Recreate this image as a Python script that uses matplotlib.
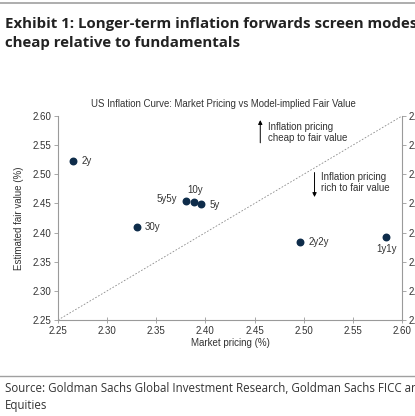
import matplotlib
matplotlib.use('Agg')
import matplotlib.pyplot as plt
from matplotlib.lines import Line2D

# market pricing vs model fair value
tenors = ['2y', '30y', '5y5y', '10y', '5y', '2y2y', '1y1y']
market = [2.265, 2.330, 2.380, 2.388, 2.396, 2.496, 2.584]
fair_value = [2.522, 2.410, 2.455, 2.453, 2.449, 2.383, 2.393]
ticks = [2.25, 2.30, 2.35, 2.40, 2.45, 2.50, 2.55, 2.60]

W, H = 415, 416
navy = '#0e2c4a'
grey_txt = '#333333'
fs = 7.0
plt.rcParams['font.family'] = ['Liberation Sans', 'DejaVu Sans']

fig = plt.figure(figsize=(W / 100, H / 100), dpi=100)


def fx(px):
    return px / W


def fy(py):
    return 1 - py / H


# header and footer
fig.add_artist(Line2D([0, 1], [fy(3), fy(3)], color='#a0a0a0', lw=1.2))
head_kw = dict(fontsize=10.8, fontweight='bold', family=['Open Sans', 'DejaVu Sans'],
               color='#222222', va='baseline', ha='left')
fig.text(fx(5), fy(28), 'Exhibit 1: Longer-term inflation forwards screen modestly', **head_kw)
fig.text(fx(5), fy(47), 'cheap relative to fundamentals', **head_kw)

fig.add_artist(Line2D([0, 1], [fy(376), fy(376)], color='#a0a0a0', lw=1.0))
foot_kw = dict(fontsize=8.3, family=['Open Sans', 'DejaVu Sans'], color='#333333',
               va='baseline', ha='left')
fig.text(fx(5), fy(392), 'Source: Goldman Sachs Global Investment Research, Goldman Sachs FICC and',
         **foot_kw)
fig.text(fx(5), fy(409), 'Equities', **foot_kw)

ax = fig.add_axes([fx(58), fy(320), fx(402) - fx(58), fy(116) - fy(320)])
ax.set_xlim(2.25, 2.60)
ax.set_ylim(2.25, 2.60)
ax.set_xticks(ticks)
ax.set_yticks(ticks)
ax.set_xticklabels([f'{t:.2f}' for t in ticks])
ax.set_yticklabels([f'{t:.2f}' for t in ticks])

for side in ['left', 'bottom', 'right']:
    ax.spines[side].set_color('#9a9a9a')
    ax.spines[side].set_linewidth(0.8)
ax.spines['top'].set_visible(False)
ax.tick_params(axis='both', labelsize=fs, colors='#9a9a9a', labelcolor=grey_txt,
               length=3, width=0.6, pad=2)
ax.tick_params(axis='x', direction='inout', length=4)
ax.tick_params(axis='y', direction='out')

ax2 = ax.twinx()
ax2.set_ylim(2.25, 2.60)
ax2.set_yticks(ticks)
ax2.set_yticklabels([f'{t:.2f}' for t in ticks])
ax2.tick_params(axis='y', labelsize=fs, colors='#9a9a9a', labelcolor=grey_txt,
                length=3, width=0.6, pad=2, direction='out')
for s in ax2.spines.values():
    s.set_visible(False)

# fair value line
ax.plot([2.25, 2.60], [2.25, 2.60], ls=(0, (2, 2)), color='#8a8a8a', lw=0.6)

ax.scatter(market, fair_value, s=22, color=navy, zorder=3)

offsets = {
    '2y': (6, 0, 'left', 'center'),
    '30y': (6, 0, 'left', 'center'),
    '5y5y': (-6, 1, 'right', 'center'),
    '10y': (1, 5, 'center', 'bottom'),
    '5y': (6, -1, 'left', 'center'),
    '2y2y': (6, 0, 'left', 'center'),
    '1y1y': (0, -5, 'center', 'top'),
}
for name, x, y in zip(tenors, market, fair_value):
    dx, dy, ha, va = offsets[name]
    ax.annotate(name, (x, y), xytext=(dx, dy), textcoords='offset points',
                ha=ha, va=va, fontsize=fs, color=grey_txt)

# cheap / rich arrows
ax.annotate('', xy=(2.4558, 2.593), xytext=(2.4558, 2.554),
            arrowprops=dict(arrowstyle='-|>', color='black', lw=0.7,
                            mutation_scale=6, shrinkA=0, shrinkB=0))
ax.text(2.464, 2.590, 'Inflation pricing\ncheap to fair value', fontsize=fs,
        color=grey_txt, va='top', ha='left', linespacing=1.1)
ax.annotate('', xy=(2.511, 2.461), xytext=(2.511, 2.503),
            arrowprops=dict(arrowstyle='-|>', color='black', lw=0.7,
                            mutation_scale=6, shrinkA=0, shrinkB=0))
ax.text(2.518, 2.504, 'Inflation pricing\nrich to fair value', fontsize=fs,
        color=grey_txt, va='top', ha='left', linespacing=1.1)

ax.set_xlabel('Market pricing (%)', fontsize=fs, color=grey_txt, labelpad=2)
ax.set_ylabel('Estimated fair value (%)', fontsize=fs, color=grey_txt, labelpad=6)

fig.text(fx(223), fy(107), 'US Inflation Curve: Market Pricing vs Model-implied Fair Value',
         fontsize=6.95, color=grey_txt, ha='center', va='baseline')

fig.savefig('out.png', dpi=100)
